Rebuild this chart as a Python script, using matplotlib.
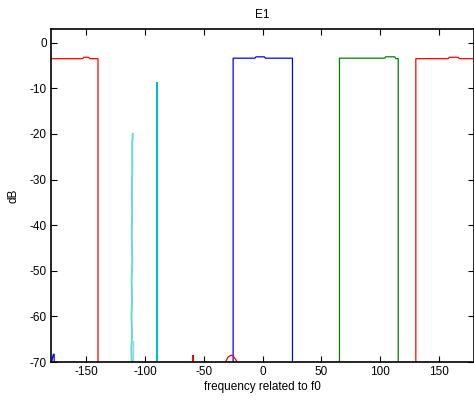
import matplotlib
matplotlib.use('Agg')
import matplotlib.pyplot as plt

plt.rcParams['font.family'] = ['Liberation Sans', 'DejaVu Sans']
plt.rcParams['axes.unicode_minus'] = False

# channel passbands (frequency offset, dB)
red_l_x = [-180, -153, -152, -148, -147, -140, -140]
red_l_y = [-3.5, -3.5, -3.2, -3.2, -3.5, -3.5, -70]

blue_x = [-25, -25, -6.5, -5.5, 1.5, 2.5, 25.5, 25.5]
blue_y = [-70, -3.4, -3.4, -3.1, -3.1, -3.4, -3.4, -70]

green_x = [65.5, 65.5, 104, 105, 112.5, 113.5, 115.5, 115.5]
green_y = [-70, -3.4, -3.4, -3.1, -3.1, -3.5, -3.5, -70]

red_r_x = [130.5, 130.5, 158, 159, 166.5, 167.5, 180]
red_r_y = [-70, -3.5, -3.5, -3.2, -3.2, -3.5, -3.5]

# interferers
cyan_x = [-90, -90]
cyan_y = [-70, -8.8]

cyan2_x = [-110.4, -110.9, -110.8, -111.2, -110.9, -111.3, -110.8, -111.4,
           -111.0, -111.5, -111.0, -111.6, -111.3]
cyan2_y = [-20, -22, -27, -33, -37, -42, -48, -52, -56, -60, -64, -67, -70]
cyan3_x = [-109.8, -109.8]
cyan3_y = [-70, -65.4]

red_spur_x = [-59.5, -59.5]
red_spur_y = [-70, -68.6]

red_arc_x = [-31.5, -29.5, -27.5, -26.5, -25.5, -23.5, -21.5]
red_arc_y = [-70, -69.0, -68.6, -68.5, -68.6, -69.2, -70]

blue_edge_x = [-179.5, -178.0, -177.3, -177.3]
blue_edge_y = [-70, -68.3, -68.3, -70]

fig = plt.figure(figsize=(4.74, 4.03), dpi=100)
ax = fig.add_axes([51/474, 1 - 362/403, 423/474, 333/403])

ax.plot(red_l_x, red_l_y, color='#ff0000', lw=0.9)
ax.plot(red_r_x, red_r_y, color='#ff0000', lw=0.9)
ax.plot(blue_x, blue_y, color='#0000ff', lw=0.9)
ax.plot(green_x, green_y, color='#008000', lw=0.9)
ax.plot(cyan2_x, cyan2_y, color='#00bfbf', lw=1.4, alpha=0.6)
ax.plot(cyan3_x, cyan3_y, color='#00bfbf', lw=1.0, alpha=0.5)
ax.plot(cyan_x, cyan_y, color='#00bfbf', lw=1.5)
ax.plot(red_spur_x, red_spur_y, color='#ff0000', lw=1.5)
ax.plot(red_arc_x, red_arc_y, color='#ff0000', lw=0.9)
ax.plot(blue_edge_x, blue_edge_y, color='#0000ff', lw=0.9)

ax.set_xlim(-180, 180)
ax.set_ylim(-70, 3)
ax.set_xticks([-150, -100, -50, 0, 50, 100, 150])
ax.set_yticks([0, -10, -20, -30, -40, -50, -60, -70])
ax.tick_params(direction='in', top=True, right=True, length=4, width=0.8,
               labelsize=8.5, pad=3)
for s in ax.spines.values():
    s.set_linewidth(1.2)

ax.set_title('E1', fontsize=8.5, pad=8)
ax.set_xlabel('frequency related to f0', fontsize=8.5, labelpad=2)
ax.set_ylabel('dB', fontsize=8.5, labelpad=7)

fig.savefig('out.png', dpi=100)
